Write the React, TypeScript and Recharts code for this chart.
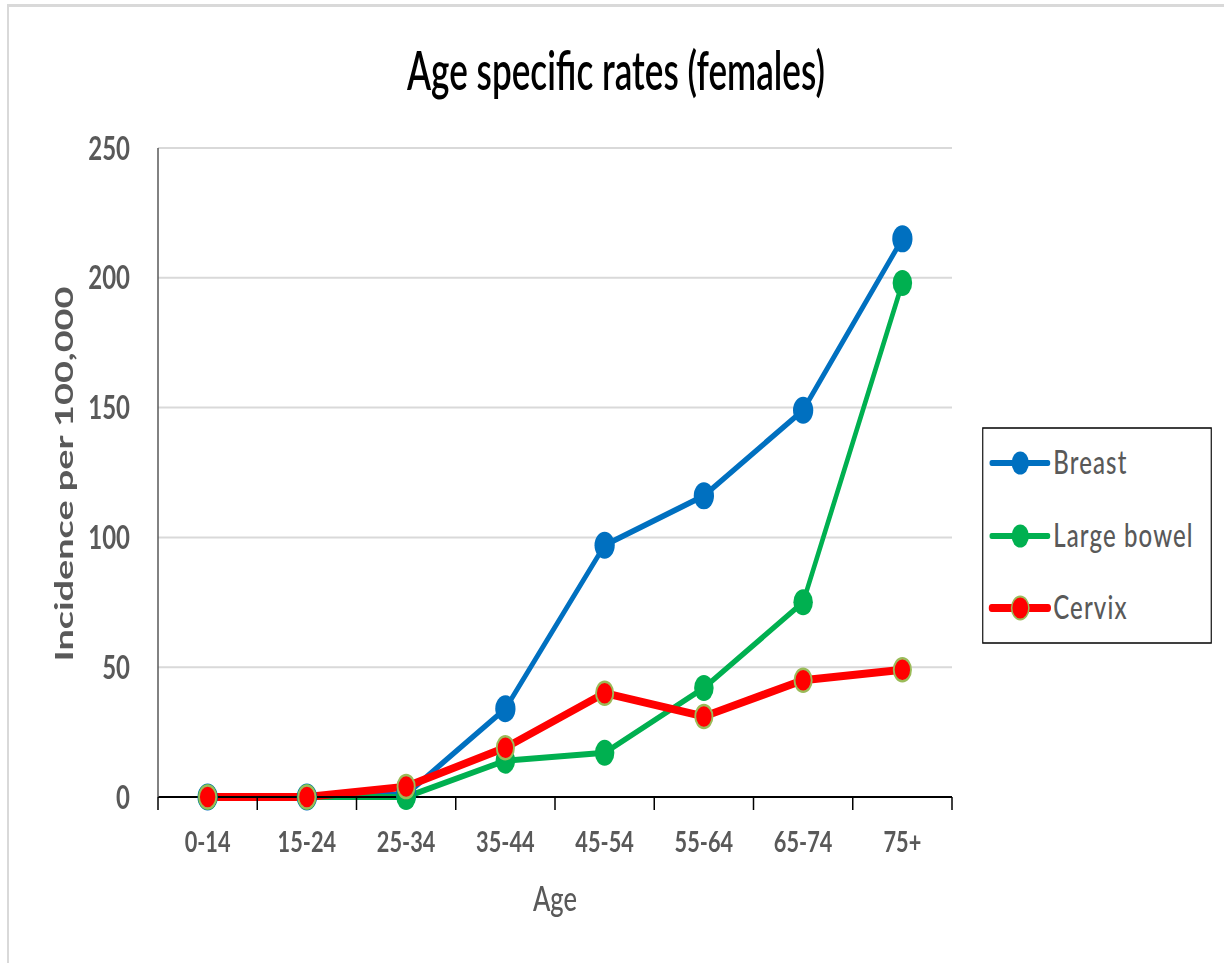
import React from 'react';
import { LineChart, Line, XAxis, YAxis, CartesianGrid, Customized } from 'recharts';

// Age bands and incidence per 100,000 for each site
const AGES = ['0-14', '15-24', '25-34', '35-44', '45-54', '55-64', '65-74', '75+'];
const BREAST = [0, 0, 1, 34, 97, 116, 149, 215];
const LARGE_BOWEL = [0, 0, 0, 14, 17, 42, 75, 198];
const CERVIX = [0, 0, 4, 19, 40, 31, 45, 49];
const Y_TICKS = [0, 50, 100, 150, 200, 250];

const TITLE = 'Age specific rates (females)';
const X_TITLE = 'Age';
const Y_TITLE = 'Incidence per 100,000';

type Series = { key: string; name: string; color: string; width: number; r: number; ring?: string };
const SERIES: Series[] = [
  { key: 'breast', name: 'Breast', color: '#0070C0', width: 6, r: 13.5 },
  { key: 'bowel', name: 'Large bowel', color: '#00B050', width: 6, r: 13 },
  { key: 'cervix', name: 'Cervix', color: '#FF0000', width: 8, r: 11.5, ring: '#9BBB59' },
];

const data = AGES.map((age, i) => ({
  age,
  breast: BREAST[i],
  bowel: LARGE_BOWEL[i],
  cervix: CERVIX[i],
}));

// The drawing is laid out wide and then squeezed horizontally
const K = 0.75;
const W = 1224 / K;
const H = 963;
const PLOT_LEFT = 158 / K;
const PLOT_RIGHT = 952 / K;
const PLOT_TOP = 148;
const PLOT_BOTTOM = 797;
const X_AXIS_H = 1;
const BAND = (PLOT_RIGHT - PLOT_LEFT) / AGES.length;

const FONT = 'Lato, "Open Sans", sans-serif';
const GREY = '#595959';

const YTick = (props: any) => {
  const { x, y, payload } = props;
  return (
    <text x={x} y={y} dy="0.36em" textAnchor="end" fontFamily={FONT} fontSize={32} fontWeight={700} fill={GREY}>
      {payload.value}
    </text>
  );
};

// Category label plus the tick marks on the band edges
const XTick = (props: any) => {
  const { x, y, payload, index } = props;
  const last = index === AGES.length - 1;
  return (
    <g>
      <line x1={x - BAND / 2} x2={x - BAND / 2} y1={y} y2={y + 13} stroke="#000" strokeWidth={2} />
      {last && <line x1={x + BAND / 2} x2={x + BAND / 2} y1={y} y2={y + 13} stroke="#000" strokeWidth={2} />}
      <text x={x} y={y + 55} textAnchor="middle" fontFamily={FONT} fontSize={29} fontWeight={700} fill={GREY}>
        {payload.value}
      </text>
    </g>
  );
};

const makeDot = (s: Series) => (props: any) => {
  const { cx, cy, index } = props;
  return (
    <circle
      key={`${s.key}-${index}`}
      cx={cx}
      cy={cy}
      r={s.r}
      fill={s.color}
      stroke={s.ring || 'none'}
      strokeWidth={s.ring ? 2.5 : 0}
    />
  );
};

const Titles = () => (
  <g>
    <text
      x={616 / K}
      y={90}
      textAnchor="middle"
      fontFamily={FONT}
      fontSize={53}
      fontWeight={600}
      fill="#000"
      textLength={418 / K}
      lengthAdjust="spacingAndGlyphs"
    >
      {TITLE}
    </text>
    <text x={555 / K} y={911} textAnchor="middle" fontFamily={FONT} fontSize={34} fontWeight={500} fill={GREY}>
      {X_TITLE}
    </text>
    <text
      x={64 / K}
      y={474}
      transform={`rotate(-90, ${64 / K}, 474)`}
      textAnchor="middle"
      dominantBaseline="central"
      fontFamily={FONT}
      fontSize={32}
      fontWeight={700}
      fill={GREY}
      textLength={375}
      lengthAdjust="spacingAndGlyphs"
    >
      {Y_TITLE}
    </text>
  </g>
);

// Legend box at the right of the plot
const LEG_X = 982 / K;
const LEG_Y = 427;
const LEG_W = 230 / K;
const LEG_H = 217;
const LEG_ROW = [36, 109, 181];

const LegendBox = () => (
  <g transform={`translate(${LEG_X}, ${LEG_Y})`}>
    <rect x={1} y={1} width={LEG_W - 2} height={LEG_H - 2} fill="#fff" stroke="#000" strokeWidth={1.5} />
    {SERIES.map((s, i) => {
      const cy = LEG_ROW[i];
      return (
        <g key={s.key}>
          <line x1={13} x2={88} y1={cy} y2={cy} stroke={s.color} strokeWidth={s.width} strokeLinecap="round" />
          <circle cx={51} cy={cy} r={11.5} fill={s.color} stroke={s.ring || 'none'} strokeWidth={s.ring ? 2 : 0} />
          <text x={95} y={cy + 11} fontFamily={FONT} fontSize={32} fontWeight={500} fill={GREY} letterSpacing={1.5}>
            {s.name}
          </text>
        </g>
      );
    })}
  </g>
);

export default function App() {
  return (
    <div style={{ position: 'absolute', left: 0, top: 0, width: 1224, height: 963, overflow: 'hidden', background: '#fff' }}>
      <div
        style={{
          position: 'absolute',
          left: 7,
          top: 4,
          right: 0,
          bottom: 0,
          borderTop: '3px solid #d9d9d9',
          borderLeft: '2px solid #d9d9d9',
        }}
      />
      <div style={{ position: 'absolute', left: 0, top: 0, width: W, height: H, transform: `scale(${K}, 1)`, transformOrigin: '0 0' }}>
        <LineChart
          width={W}
          height={H}
          data={data}
          margin={{ top: PLOT_TOP, right: W - PLOT_RIGHT, bottom: H - PLOT_BOTTOM - X_AXIS_H, left: 0 }}
        >
          <CartesianGrid vertical={false} stroke="#d9d9d9" strokeWidth={2} />
          <XAxis
            dataKey="age"
            height={X_AXIS_H}
            padding={{ left: BAND / 2, right: BAND / 2 }}
            axisLine={{ stroke: '#000', strokeWidth: 2 }}
            tickLine={false}
            tickSize={0}
            tickMargin={0}
            tick={<XTick />}
            interval={0}
          />
          <YAxis
            width={PLOT_LEFT}
            domain={[0, 250]}
            ticks={Y_TICKS}
            interval={0}
            axisLine={{ stroke: GREY, strokeWidth: 2 }}
            tickLine={false}
            tickSize={0}
            tickMargin={PLOT_LEFT - 130 / K}
            tick={<YTick />}
          />
          {SERIES.map((s) => (
            <Line
              key={s.key}
              type="linear"
              dataKey={s.key}
              name={s.name}
              stroke={s.color}
              strokeWidth={s.width}
              dot={makeDot(s)}
              activeDot={false}
              isAnimationActive={false}
            />
          ))}
          <Customized component={<Titles />} />
          <Customized component={<LegendBox />} />
        </LineChart>
      </div>
    </div>
  );
}
